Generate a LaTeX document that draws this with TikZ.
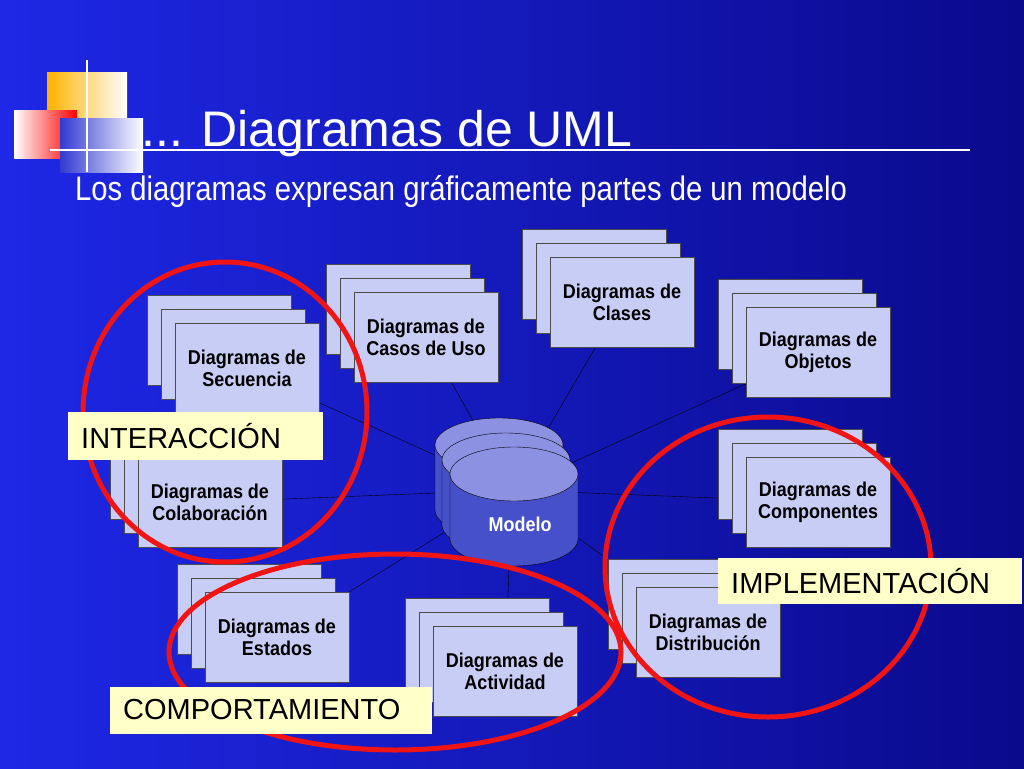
\documentclass[tikz,border=0pt]{standalone}
\usepackage{fontspec}
\setmainfont{Liberation Sans}
\usetikzlibrary{shapes.geometric}
\definecolor{bgleft}{RGB}{30,40,230}
\definecolor{bgright}{RGB}{10,10,140}
\definecolor{boxfill}{RGB}{200,205,245}
\definecolor{cylfill}{RGB}{70,80,200}
\definecolor{cyltop}{RGB}{140,145,225}
\definecolor{tagfill}{RGB}{255,255,200}
\definecolor{ringred}{RGB}{240,20,20}
\tikzset{
    sheet/.style={draw=black!70,fill=boxfill,minimum width=144pt,minimum height=90pt,inner sep=0pt},
    sheettext/.style={font=\bfseries\fontsize{20}{22}\selectfont,align=center,xscale=0.9},
    tag/.style={fill=tagfill,inner sep=0pt,font=\fontsize{29}{30}\selectfont,anchor=west},
    ring/.style={draw=ringred,line width=5pt},
    spoke/.style={draw=black,thin}
}
\newcommand{\stack}[3]{%
    \node[sheet] (#1c) at ([xshift=-28pt,yshift=28pt]#2) {};
    \node[sheet] (#1b) at ([xshift=-14pt,yshift=14pt]#2) {};
    \node[sheet] (#1) at (#2) {};
    \node[sheettext] (#1t) at (#2) {#3};
}
\newcommand{\drum}[2]{%
    \fill[cylfill,draw=black] ([xshift=-64pt]#1) -- ([xshift=-64pt,yshift=-65pt]#1)
        arc[start angle=180,end angle=360,x radius=64pt,y radius=27pt]
        -- ([xshift=64pt]#1) -- cycle;
    \draw[fill=cyltop] (#1) ellipse[x radius=64pt,y radius=27pt];
    \coordinate (#2) at (#1);
}
\begin{document}
\begin{tikzpicture}[x=1pt,y=-1pt]
    \shade[left color=bgleft,right color=bgright] (0,0) rectangle (1024,768);
    \useasboundingbox (0,0) rectangle (1024,768);
    %logo
    \shade[left color=orange!60!yellow,right color=white] (47,72) rectangle (127,130);
    \shade[left color=white,right color=red] (14,110) rectangle (77,158);
    \shade[left color=bgleft!80!gray,right color=white] (60,118) rectangle (143,172);
    \draw[white,line width=2pt] (87,60) -- (87,172);
    \draw[white,line width=2pt] (50,150) -- (970,150);
    %titles
    \node[white,anchor=base west,font=\fontsize{50}{52}\selectfont] (title) at (138,146) {... Diagramas de UML};
    \node[white,anchor=base west,font=\fontsize{34}{36}\selectfont,xscale=0.86] (subtitle) at (72,200) {Los diagramas expresan gráficamente partes de un modelo};
    %model center for spokes
    \coordinate (hub) at (512,490);
    \foreach \p in {(247,370),(426,337),(622,302),(816,352),(210,502),(818,502),(277,637),(505,671),(708,632)}
        \draw[spoke] (hub) -- \p;
    %stacks
    \stack{seq}{247,368}{Diagramas de\\Secuencia}
    \stack{uso}{426,337}{Diagramas de\\Casos de Uso}
    \stack{cla}{622,302}{Diagramas de\\Clases}
    \stack{obj}{818,352}{Diagramas de\\Objetos}
    \stack{col}{210,502}{Diagramas de\\Colaboración}
    \stack{com}{818,502}{Diagramas de\\Componentes}
    \stack{est}{277,637}{Diagramas de\\Estados}
    \stack{act}{505,671}{Diagramas de\\Actividad}
    \stack{dis}{708,632}{Diagramas de\\Distribución}
    %model
    \drum{499,445}{m3}
    \drum{506,460}{m2}
    \drum{514,474}{m1}
    \node[white,font=\bfseries\fontsize{20}{22}\selectfont,xscale=0.9] (modelo) at (520,524) {Modelo};
    %groups
    \draw[ring] (225,412) ellipse[x radius=142,y radius=150];
    \draw[ring] (395,652) ellipse[x radius=226,y radius=98];
    \draw[ring] (768,567) ellipse[x radius=163,y radius=150];
    \node[tag,minimum width=255pt,minimum height=48pt,text width=245pt] (inter) at (68,436) {\hspace*{8pt}INTERACCIÓN};
    \node[tag,minimum width=322pt,minimum height=47pt,text width=312pt] (comp) at (110,710) {\hspace*{8pt}COMPORTAMIENTO};
    \node[tag,minimum width=304pt,minimum height=46pt,text width=294pt] (impl) at (718,581) {\hspace*{8pt}IMPLEMENTACIÓN};
\end{tikzpicture}
\end{document}
